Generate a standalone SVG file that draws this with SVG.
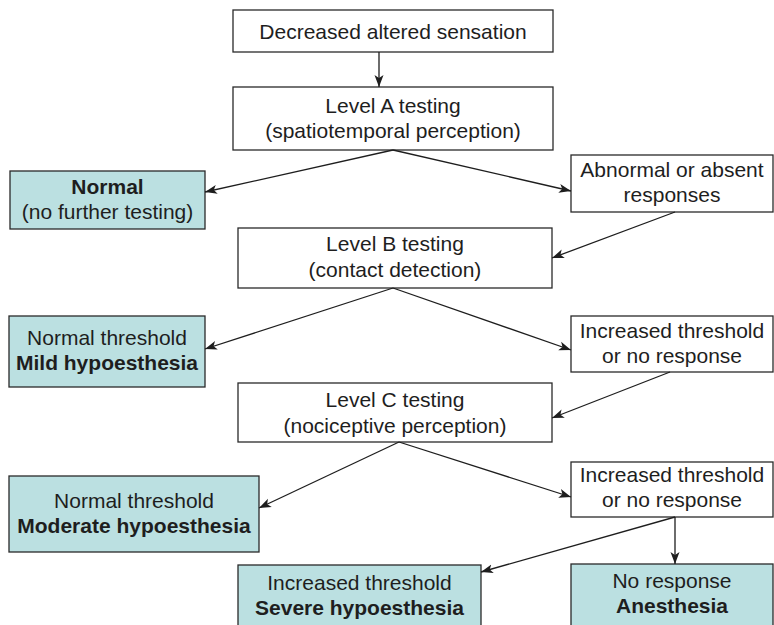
<svg xmlns="http://www.w3.org/2000/svg" width="774" height="625" viewBox="0 0 774 625">
<defs>
<style>
.box{fill:#ffffff;stroke:#2a2a2a;stroke-width:1.3}
.res{fill:#bbe0e1;stroke:#2a2a2a;stroke-width:1.3}
text{font-family:"Liberation Sans",Arial,Helvetica,sans-serif;font-size:21px;fill:#1e1e1e;text-anchor:middle}
.b{font-weight:bold}
.edge{stroke:#1e1e1e;stroke-width:1.3;fill:none;marker-end:url(#arr)}
</style>
<marker id="arr" markerUnits="userSpaceOnUse" markerWidth="14" markerHeight="10" refX="12" refY="5" orient="auto">
<path d="M0,0.5 L12,5 L0,9.5 L3,5 Z" fill="#1e1e1e"/>
</marker>
</defs>
<g id="n-start"><rect class="box" x="233" y="10" width="320" height="42"/><text x="393" y="39">Decreased altered sensation</text></g>
<g id="n-levelA"><rect class="box" x="233" y="87" width="320" height="63"/><text x="393" y="113">Level A testing</text><text x="393" y="138">(spatiotemporal perception)</text></g>
<g id="n-normal"><rect class="res" x="10" y="171" width="195" height="58"/><text class="b" x="107.5" y="194">Normal</text><text x="107.5" y="219">(no further testing)</text></g>
<g id="n-abnormal"><rect class="box" x="571" y="155" width="202" height="57"/><text x="672" y="177">Abnormal or absent</text><text x="672" y="202">responses</text></g>
<g id="n-levelB"><rect class="box" x="238" y="228" width="314" height="60"/><text x="395" y="251">Level B testing</text><text x="395" y="277">(contact detection)</text></g>
<g id="n-mild"><rect class="res" x="9" y="316" width="196" height="71"/><text x="107" y="345">Normal threshold</text><text class="b" x="107" y="370">Mild hypoesthesia</text></g>
<g id="n-inc1"><rect class="box" x="571" y="316" width="202" height="56"/><text x="672" y="338">Increased threshold</text><text x="672" y="363">or no response</text></g>
<g id="n-levelC"><rect class="box" x="238" y="383" width="314" height="59"/><text x="395" y="407">Level C testing</text><text x="395" y="433">(nociceptive perception)</text></g>
<g id="n-moderate"><rect class="res" x="9" y="476" width="250" height="76"/><text x="134" y="508">Normal threshold</text><text class="b" x="134" y="533">Moderate hypoesthesia</text></g>
<g id="n-inc2"><rect class="box" x="571" y="462" width="202" height="55"/><text x="672" y="482">Increased threshold</text><text x="672" y="507">or no response</text></g>
<g id="n-severe"><rect class="res" x="238" y="565" width="243" height="70"/><text x="359.5" y="590">Increased threshold</text><text class="b" x="359.5" y="615">Severe hypoesthesia</text></g>
<g id="n-anesthesia"><rect class="res" x="571" y="564" width="202" height="70"/><text x="672" y="588">No response</text><text class="b" x="672" y="613">Anesthesia</text></g>
<g id="connectors">
<line class="edge" x1="379" y1="52" x2="379" y2="87"/>
<line class="edge" x1="393" y1="150" x2="205" y2="192"/>
<line class="edge" x1="393" y1="150" x2="571" y2="191"/>
<line class="edge" x1="675" y1="212" x2="552" y2="258"/>
<line class="edge" x1="393" y1="288" x2="205" y2="349"/>
<line class="edge" x1="393" y1="288" x2="571" y2="350"/>
<line class="edge" x1="670" y1="372" x2="552" y2="418"/>
<line class="edge" x1="399" y1="442" x2="259" y2="508"/>
<line class="edge" x1="399" y1="442" x2="571" y2="497"/>
<line class="edge" x1="675" y1="517" x2="481" y2="572"/>
<line class="edge" x1="675" y1="517" x2="675" y2="564"/>
</g>
</svg>
